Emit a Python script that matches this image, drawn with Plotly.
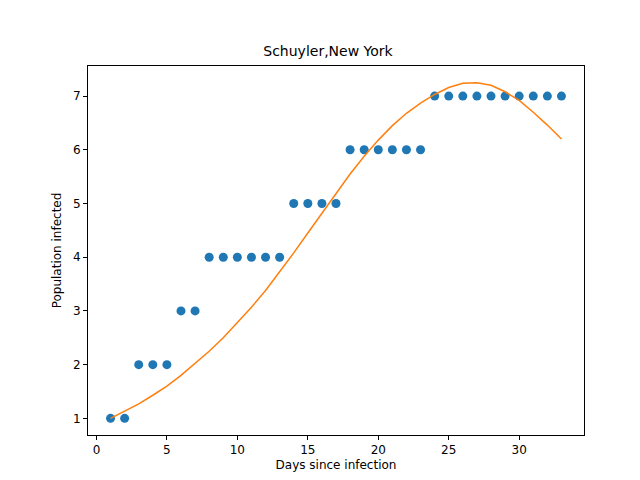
import plotly.graph_objects as go

days = list(range(1, 34))
infected = [1,1,2,2,2,3,3,4,4,4,4,4,4,5,5,5,5,6,6,6,6,6,6,7,7,7,7,7,7,7,7,7,7]
fit = [1.0,1.13,1.27,1.43,1.6,1.8,2.02,2.25,2.5,2.78,3.07,3.38,3.72,4.08,4.45,4.82,5.2,5.55,5.88,6.18,6.45,6.68,6.87,7.03,7.16,7.24,7.25,7.2,7.08,6.92,6.7,6.46,6.2]
xticks = [0,5,10,15,20,25,30]
yticks = [1,2,3,4,5,6,7]

fig = go.Figure()
fig.add_trace(go.Scatter(x=days, y=infected, mode="markers",
                         marker=dict(color="#1f77b4", size=9)))
fig.add_trace(go.Scatter(x=days, y=fit, mode="lines",
                         line=dict(color="#ff7f0e", width=1.5)))
axis = dict(showgrid=False, zeroline=False, showline=True, mirror=True,
            linecolor="black", linewidth=1, ticks="outside", ticklen=4,
            tickcolor="black", tickfont=dict(size=12, color="black"),
            automargin=False)
fig.update_layout(
    width=640, height=480, showlegend=False,
    plot_bgcolor="white", paper_bgcolor="white",
    font=dict(family="DejaVu Sans", color="black"),
    margin=dict(l=80, r=64, t=58, b=53, autoexpand=False),
    title=dict(text="Schuyler,New York", x=0.5, xanchor="center",
               y=1 - 43/480, yanchor="middle", font=dict(size=14), automargin=False),
    xaxis=dict(axis, range=[-0.6, 34.6], tickvals=xticks,
               title=dict(text="Days since infection", font=dict(size=12), standoff=4)),
    yaxis=dict(axis, range=[0.69, 7.56], tickvals=yticks,
               title=dict(text="Population infected", font=dict(size=12), standoff=8)),
)
fig.write_html("out.html")
